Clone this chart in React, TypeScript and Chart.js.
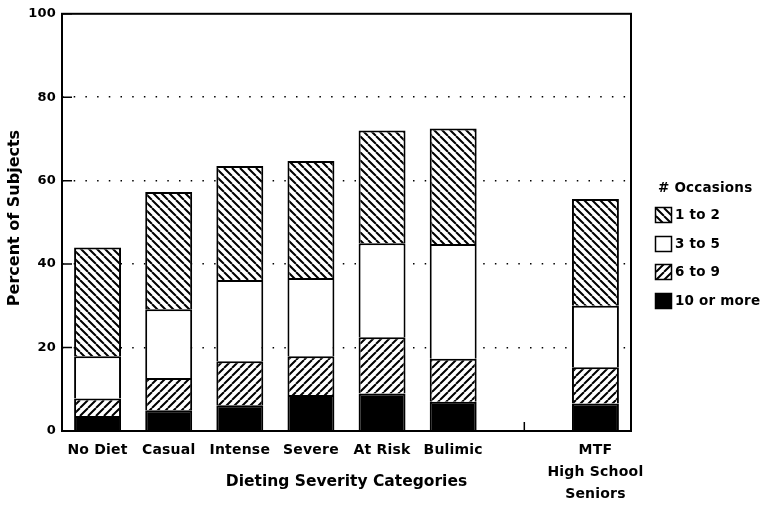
import React, { useEffect, useRef } from "react";
import { Chart, registerables } from "chart.js";

Chart.register(...registerables);

const categories: (string | string[])[] = [
  "No Diet",
  "Casual",
  "Intense",
  "Severe",
  "At Risk",
  "Bulimic",
  "",
  ["MTF", "High School", "Seniors"],
];

const tenOrMore = [3.6, 5.0, 6.2, 8.6, 9.0, 7.0, null, 6.6];
const sixToNine = [4.2, 7.7, 10.5, 9.3, 13.5, 10.3, null, 8.7];
const threeToFive = [10.1, 16.5, 19.5, 18.8, 22.5, 27.5, null, 14.7];
const oneToTwo = [26.1, 28.1, 27.3, 28.0, 27.0, 27.7, null, 25.6];

const seriesLabels = ["10 or more", "6 to 9", "3 to 5", "1 to 2"];
const legendTitle = "# Occasions";
const xTitle = "Dieting Severity Categories";
const yTitle = "Percent of Subjects";
const yTickValues = [0, 20, 40, 60, 80, 100];

const FONT = '"DejaVu Sans", sans-serif';

function makeHatch(dir: "back" | "fwd"): CanvasPattern | string {
  const s = 8;
  const c = document.createElement("canvas");
  c.width = s;
  c.height = s;
  const g = c.getContext("2d");
  if (!g) return "#fff";
  g.fillStyle = "#fff";
  g.fillRect(0, 0, s, s);
  g.strokeStyle = "#000";
  g.lineWidth = 2;
  g.beginPath();
  for (const x0 of [-s, 0, s]) {
    if (dir === "back") {
      g.moveTo(x0, 0);
      g.lineTo(x0 + s, s);
    } else {
      g.moveTo(x0, s);
      g.lineTo(x0 + s, 0);
    }
  }
  g.stroke();
  const p = g.createPattern(c, "repeat");
  return p || "#fff";
}

export default function App() {
  const ref = useRef<HTMLCanvasElement | null>(null);

  useEffect(() => {
    const canvas = ref.current;
    if (!canvas) return;
    const backHatch = makeHatch("back");
    const fwdHatch = makeHatch("fwd");
    const fills = ["#000", fwdHatch, "#fff", backHatch];
    const dataSets = [tenOrMore, sixToNine, threeToFive, oneToTwo];

    const spacingPlugin = {
      id: "spacing",
      beforeLayout(chart: any) {
        chart.ctx.letterSpacing = "0.2px";
      },
      beforeDraw(chart: any) {
        chart.ctx.letterSpacing = "0.2px";
      },
    };

    const decorPlugin = {
      id: "decor",
      afterDraw(chart: any) {
        const { ctx, chartArea: a, scales } = chart;
        ctx.save();
        ctx.setLineDash([]);
        ctx.strokeStyle = "#000";
        ctx.lineWidth = 2;
        ctx.strokeRect(a.left, a.top, a.right - a.left, a.bottom - a.top);
        ctx.lineWidth = 1.5;
        ctx.beginPath();
        for (const v of yTickValues) {
          const y = scales.y.getPixelForValue(v);
          ctx.moveTo(a.left, y);
          ctx.lineTo(a.left + 10, y);
        }
        const gx = scales.x.getPixelForValue(6);
        ctx.moveTo(gx, a.bottom);
        ctx.lineTo(gx, a.bottom - 9);
        ctx.stroke();

        ctx.fillStyle = "#000";
        ctx.font = `bold 15.5px ${FONT}`;
        ctx.letterSpacing = "0px";
        ctx.textAlign = "center";
        ctx.textBaseline = "middle";
        ctx.fillText(xTitle, (a.left + a.right) / 2, 482);

        ctx.save();
        ctx.translate(15, 218);
        ctx.rotate(-Math.PI / 2);
        ctx.font = `bold 16px ${FONT}`;
        ctx.fillText(yTitle, 0, 0);
        ctx.restore();

        // legend
        ctx.font = `bold 13.5px ${FONT}`;
        ctx.letterSpacing = "0.2px";
        ctx.textAlign = "left";
        ctx.fillText(legendTitle, 658, 188);
        const rowY = [215, 244, 272, 301];
        for (let i = 0; i < 4; i++) {
          const di = 3 - i;
          const cy = rowY[i];
          ctx.fillStyle = fills[di] as any;
          ctx.fillRect(655, cy - 8, 17, 16);
          ctx.strokeStyle = "#000";
          ctx.lineWidth = 1.5;
          ctx.strokeRect(655.5, cy - 7.5, 16, 15);
          ctx.fillStyle = "#000";
          ctx.fillText(seriesLabels[di], 675, cy);
        }
        ctx.restore();
      },
    };

    const chart = new Chart(canvas, {
      type: "bar",
      data: {
        labels: categories as any,
        datasets: dataSets.map((d, i) => ({
          label: seriesLabels[i],
          data: d as any,
          backgroundColor: fills[i] as any,
          borderColor: "#000",
          borderWidth: { top: 2, left: 2, right: 2, bottom: 0 } as any,
          borderSkipped: false,
          barPercentage: 0.66,
          categoryPercentage: 1,
        })),
      },
      options: {
        responsive: false,
        animation: false,
        devicePixelRatio: 1,
        layout: { padding: { left: 0, right: 129, top: 9, bottom: 0 } },
        plugins: {
          legend: { display: false },
          tooltip: { enabled: false },
        },
        scales: {
          x: {
            stacked: true,
            grid: { display: false, drawTicks: false },
            border: { display: false },
            ticks: {
              autoSkip: false,
              maxRotation: 0,
              minRotation: 0,
              color: "#000",
              padding: 8,
              font: { family: FONT, size: 14, weight: "bold", lineHeight: "22px" as any },
            },
            afterFit(scale: any) {
              scale.height = 74;
            },
          },
          y: {
            stacked: true,
            min: 0,
            max: 100,
            grid: {
              drawTicks: false,
              lineWidth: 1.5,
              color: (c: any) =>
                c.tick && c.tick.value > 0 && c.tick.value < 100 ? "#000" : "rgba(0,0,0,0)",
            },
            border: { display: false, dash: [1.5, 10.2] },
            ticks: {
              stepSize: 20,
              color: "#000",
              padding: 6,
              font: { family: FONT, size: 13, weight: "bold" },
            },
            afterFit(scale: any) {
              scale.width = 62;
            },
          },
        },
      },
      plugins: [spacingPlugin, decorPlugin],
    });
    return () => chart.destroy();
  }, []);

  return (
    <div style={{ position: "absolute", left: 0, top: 0, width: 760, height: 505, background: "#fff" }}>
      <canvas ref={ref} width={760} height={505} />
    </div>
  );
}
